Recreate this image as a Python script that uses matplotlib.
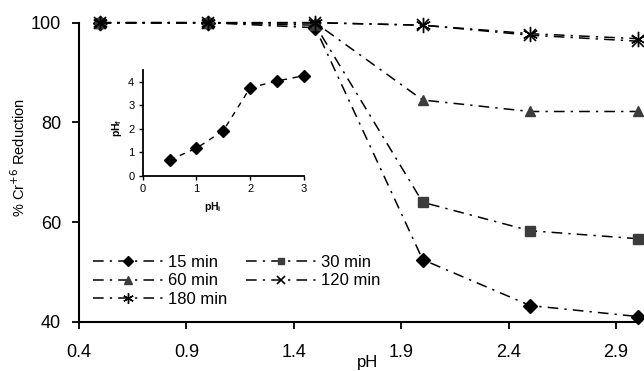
import matplotlib
matplotlib.use("Agg")
import matplotlib.pyplot as plt

# ---- data ----
ph_initial = [0.5, 1.0, 1.5, 2.0, 2.5, 3.0]
red_15 = [100, 100, 99, 52.5, 43.3, 41.1]
red_30 = [100, 100, 99.5, 64.0, 58.3, 56.7]
red_60 = [100, 100, 100, 84.5, 82.2, 82.2]
red_120 = [100, 100, 100, 99.5, 97.5, 96.3]
red_180 = [100, 100, 100, 99.5, 97.8, 96.8]
series_labels = ["15 min", "30 min", "60 min", "120 min", "180 min"]

inset_phi = [0.5, 1.0, 1.5, 2.0, 2.5, 3.0]
inset_phf = [0.67, 1.17, 1.92, 3.75, 4.03, 4.26]

x_ticks = [0.4, 0.9, 1.4, 1.9, 2.4, 2.9]
y_ticks = [40, 60, 80, 100]
inset_xticks = [0, 1, 2, 3]
inset_yticks = [0, 1, 2, 3, 4]

plt.rcParams['font.family'] = ['Liberation Sans', 'DejaVu Sans']

W, H = 644, 371
fig = plt.figure(figsize=(W / 100, H / 100), dpi=100)
ax = fig.add_axes([79 / W, 1 - 322 / H, (637.5 - 79) / W, (322 - 22.7) / H])

dash = (0, (7, 4, 1.5, 4))
gray = '#3c3c3c'
styles = [
    dict(marker='D', ms=7, mfc='black', mec='black'),
    dict(marker='s', ms=6.5, mfc=gray, mec=gray),
    dict(marker='^', ms=7.5, mfc=gray, mec=gray),
    dict(marker='x', ms=9, mfc='black', mec='black', mew=1.2),
    dict(marker=(6, 2, 0), ms=11, mfc='black', mec='black', mew=1.0),
]
all_series = [red_15, red_30, red_60, red_120, red_180]
handles = []
for vals, lab, st in zip(all_series, series_labels, styles):
    h, = ax.plot(ph_initial, vals, color='black', lw=1.1, linestyle=dash,
                 label=lab, clip_on=False, **st)
    handles.append(h)

ax.set_xlim(0.4, 3.0)
ax.set_ylim(40, 100)
ax.set_xticks(x_ticks)
ax.set_xticklabels([f"{t:.1f}" for t in x_ticks])
ax.set_yticks(y_ticks)
for s in ['top', 'right']:
    ax.spines[s].set_visible(False)
for s in ['left', 'bottom']:
    ax.spines[s].set_linewidth(1.5)
ax.tick_params(axis='x', direction='out', length=5, width=1.3, labelsize=13, pad=11)
ax.tick_params(axis='y', direction='out', length=5, width=1.3, labelsize=13, pad=8)

ax.set_xlabel('pH', fontsize=12)
ax.xaxis.set_label_coords((368 - 79) / 558.5, (322 - 355) / 299.3)
ax.set_ylabel('% Cr$^{+6}$ Reduction', fontsize=10.5)
ax.yaxis.set_label_coords((28 - 79) / 558.5, (322 - 157) / 299.3)

order = [0, 2, 4, 1, 3]
leg = ax.legend([handles[i] for i in order], [series_labels[i] for i in order],
                ncol=2, loc='center left', bbox_to_anchor=(0.025, 0.137),
                frameon=False, fontsize=12, handlelength=4.2, handletextpad=0.3,
                columnspacing=1.1, labelspacing=0.2, borderpad=0, borderaxespad=0,
                markerscale=0.7)

# ---- inset ----
ia = fig.add_axes([142.7 / W, 1 - 175.7 / H, (304 - 142.7) / W, (175.7 - 70) / H])
ia.plot(inset_phi, inset_phf, color='black', lw=1.0, linestyle=(0, (4, 4)),
        marker='D', ms=6, mfc='black', mec='black', clip_on=False)
ia.set_xlim(0, 3)
ia.set_ylim(0, 4.5)
ia.set_xticks(inset_xticks)
ia.set_yticks(inset_yticks)
for s in ['top', 'right']:
    ia.spines[s].set_visible(False)
for s in ['left', 'bottom']:
    ia.spines[s].set_linewidth(1.3)
ia.tick_params(direction='out', length=3, width=1.0, labelsize=8, pad=3)
ia.patch.set_alpha(0)
ia.set_xlabel('pH$_\\mathregular{i}$', fontsize=7.5, fontweight='bold')
ia.xaxis.set_label_coords((213 - 142.7) / 161.3, (175.7 - 200) / 105.7)
ia.set_ylabel('pH$_\\mathregular{f}$', fontsize=7.5, fontweight='bold')
ia.yaxis.set_label_coords((124 - 142.7) / 161.3, (175.7 - 128) / 105.7)

fig.savefig('out.png', dpi=100)
